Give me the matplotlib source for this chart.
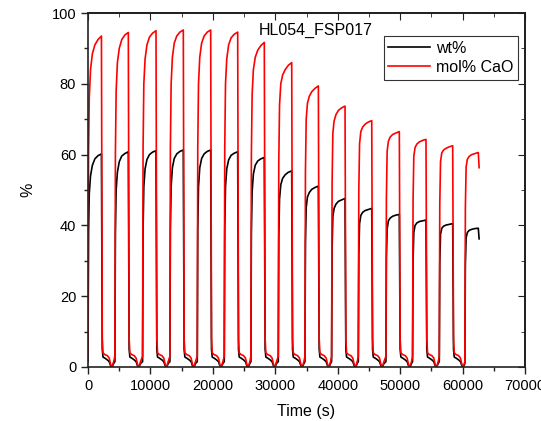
import numpy as np
import matplotlib
matplotlib.use("Agg")
import matplotlib.pyplot as plt
from matplotlib.ticker import MultipleLocator

plt.rcParams['font.family'] = ['Liberation Sans', 'DejaVu Sans']

# cycle onsets (s)
cycle_starts = [0, 4306, 8740, 13115, 17500, 21825, 26090, 30480,
                34750, 39020, 43300, 47720, 51990, 56270, 60370]

# time offsets inside one cycle (s): carbonation part, then calcination part
rise_offsets = [0, 80, 200, 400, 700, 1100, 1600, 2150]
low_offsets = [2280, 2400, 2700, 3100, 3400, 3650, 3900, 4100]

# mol% CaO during carbonation, one row per cycle
mol_rise = [
    [2.5, 60, 76, 84, 88.5, 91, 92.5, 93.5],
    [3, 60, 78, 86, 90, 92.5, 93.8, 94.5],
    [3, 62, 80, 87, 91, 93.2, 94.3, 95],
    [3, 62, 80, 87.5, 91.5, 93.5, 94.6, 95.2],
    [3, 62, 80, 87.5, 91.5, 93.5, 94.6, 95.2],
    [3, 62, 80, 87, 91, 93, 94, 94.6],
    [3, 60, 77, 84, 87.5, 89.5, 90.8, 91.7],
    [3, 58, 74, 80, 82.5, 84, 85.2, 86],
    [3, 55, 70, 74.5, 76.5, 77.8, 78.7, 79.4],
    [3, 52, 66, 69.5, 71.3, 72.5, 73.2, 73.7],
    [3, 50, 63, 66.5, 67.8, 68.6, 69.2, 69.6],
    [3, 48, 61, 63.8, 65, 65.7, 66.1, 66.5],
    [3, 47, 59.5, 62, 63, 63.6, 64, 64.3],
    [3, 46, 58, 60.5, 61.3, 61.8, 62.2, 62.5],
    [3, 45, 56.5, 58.7, 59.5, 60, 60.3, 60.6],
]
# wt% during carbonation
wt_rise = [
    [1.5, 38, 49, 54, 57, 58.8, 59.7, 60.2],
    [1.5, 38, 50, 55, 58, 59.6, 60.3, 60.8],
    [1.5, 39, 51, 56, 58.6, 60, 60.7, 61.1],
    [1.5, 39, 51, 56.3, 58.9, 60.2, 60.9, 61.3],
    [1.5, 39, 51, 56.3, 58.9, 60.2, 60.9, 61.3],
    [1.5, 39, 51, 56, 58.5, 59.8, 60.4, 60.8],
    [1.5, 38, 49.5, 54.5, 57, 58.2, 58.8, 59.2],
    [1.5, 37, 47.5, 51.5, 53.3, 54.3, 55, 55.4],
    [1.5, 35, 45, 48, 49.3, 50.2, 50.7, 51.1],
    [1.5, 33.5, 42.5, 44.8, 46, 46.8, 47.2, 47.6],
    [1.5, 32, 40.5, 42.8, 43.7, 44.2, 44.5, 44.8],
    [1.5, 31, 39, 41.3, 42.1, 42.6, 42.9, 43.1],
    [1.5, 30, 38, 40, 40.7, 41.1, 41.3, 41.5],
    [1.5, 29.5, 37.5, 39.2, 39.8, 40.1, 40.3, 40.5],
    [1.5, 29, 36.5, 38, 38.6, 38.9, 39.1, 39.2],
]
# calcination (low) part, same for every cycle
mol_low = [8, 4, 3.5, 3.2, 2.5, 0.5, 0.3, 1.5]
wt_low = [5, 2.8, 2.5, 2, 1.5, 0.2, 0.1, 1]

# the run stops shortly after the last carbonation
tail_offset = 2280
mol_tail = 56.3
wt_tail = 36.2


def build(rise, low, tail):
    t, y = [], []
    for i, start in enumerate(cycle_starts):
        t += [start + o for o in rise_offsets]
        y += rise[i]
        if i < len(cycle_starts) - 1:
            t += [start + o for o in low_offsets]
            y += low
        else:
            t.append(start + tail_offset)
            y.append(tail)
    return np.array(t), np.array(y)


t_wt, y_wt = build(wt_rise, wt_low, wt_tail)
t_mol, y_mol = build(mol_rise, mol_low, mol_tail)

fig = plt.figure(figsize=(5.41, 4.21), dpi=100)
ax = fig.add_axes([0.1627, 0.1283, 0.8077, 0.8408])

ax.plot(t_wt, y_wt, color='black', lw=1.2, label='wt%')
ax.plot(t_mol, y_mol, color='red', lw=1.2, label='mol% CaO')

ax.set_xlim(0, 70000)
ax.set_ylim(0, 100)
ax.xaxis.set_major_locator(MultipleLocator(10000))
ax.xaxis.set_minor_locator(MultipleLocator(5000))
ax.yaxis.set_major_locator(MultipleLocator(20))
ax.yaxis.set_minor_locator(MultipleLocator(10))

ax.tick_params(which='both', bottom=True, left=True, top=False, right=False,
               direction='out', color='#222222', labelsize=10.5, width=1.0)
ax.tick_params(which='major', length=5)
ax.tick_params(which='minor', length=3)

# mirrored inward ticks on top and right
axt = ax.secondary_xaxis('top')
axt.xaxis.set_major_locator(MultipleLocator(10000))
axt.xaxis.set_minor_locator(MultipleLocator(5000))
axt.tick_params(which='both', direction='in', labeltop=False, color='#222222')
axt.tick_params(which='major', length=5)
axt.tick_params(which='minor', length=3)
axr = ax.secondary_yaxis('right')
axr.yaxis.set_major_locator(MultipleLocator(20))
axr.yaxis.set_minor_locator(MultipleLocator(10))
axr.tick_params(which='both', direction='in', labelright=False, color='#222222')
axr.tick_params(which='major', length=5)
axr.tick_params(which='minor', length=3)

for s in ax.spines.values():
    s.set_linewidth(1.2)
    s.set_color('#222222')
axt.spines['top'].set_linewidth(1.2)
axr.spines['right'].set_linewidth(1.2)

ax.set_xlabel('Time (s)', fontsize=11.5, labelpad=8)
ax.set_ylabel('%', fontsize=11.5, labelpad=12)
ax.text(0.52, 0.952, 'HL054_FSP017', transform=ax.transAxes,
        fontsize=11.5, va='center', ha='center')

leg = ax.legend(loc='upper right', bbox_to_anchor=(0.985, 0.935), fontsize=11.5,
                frameon=True, fancybox=False, handlelength=2.6,
                handletextpad=0.4, borderpad=0.3, labelspacing=0.25,
                borderaxespad=0)
leg.get_frame().set_edgecolor('black')
leg.get_frame().set_linewidth(0.8)

fig.savefig('out.png', dpi=100)
